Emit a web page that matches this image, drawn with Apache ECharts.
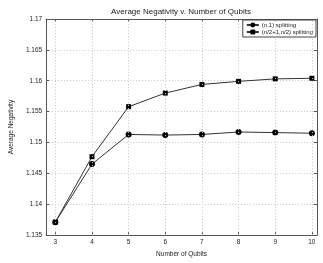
<!DOCTYPE html>
<html><head><meta charset="utf-8">
<script src="https://cdn.jsdelivr.net/npm/echarts@6/dist/echarts.min.js"></script>
<style>html,body{margin:0;padding:0;background:#fff}#c{width:323px;height:263px}</style>
</head><body><div id="c"></div>
<script>
const qubits = [3, 4, 5, 6, 7, 8, 9, 10];
const splitN1 = [1.1371, 1.1465, 1.1513, 1.1512, 1.1513, 1.1517, 1.1516, 1.1515];
const splitHalf = [1.1371, 1.1477, 1.1558, 1.1580, 1.1594, 1.1599, 1.1603, 1.1604];
const xTicks = [3, 4, 5, 6, 7, 8, 9, 10];
const yTicks = [1.135, 1.14, 1.145, 1.15, 1.155, 1.16, 1.165, 1.17];
const names = ['(n,1) splitting', '(n/2+1,n/2) splitting'];

const font = 'Liberation Sans, Arial, sans-serif';
const chart = echarts.init(document.getElementById('c'), null, {renderer: 'canvas'});
const pairs = a => qubits.map((q, i) => [q, a[i]]);
const gridLine = {show: true, lineStyle: {color: '#c8c8c8', type: [1, 2], width: 1}};
const axLine = {show: true, lineStyle: {color: '#555', width: 1}};
chart.setOption({
  animation: false,
  title: {text: 'Average Negativity v. Number of Qubits', left: 176, top: 3, textAlign: 'center',
    textStyle: {fontFamily: font, fontSize: 8, fontWeight: 'normal', color: '#222'}},
  grid: {left: 36, right: 6, top: 19, bottom: 22, show: false},
  legend: {
    orient: 'vertical', right: 7, top: 20, itemGap: 1, itemWidth: 12, itemHeight: 6,
    padding: [2, 3, 2, 3], borderColor: '#444', borderWidth: 1, backgroundColor: '#fff',
    textStyle: {fontFamily: font, fontSize: 6, color: '#222', padding: [0, 0, 0, -2]},
    data: names
  },
  xAxis: [{
    type: 'value', min: 2.75, max: 10.14, position: 'bottom',
    name: 'Number of Qubits', nameLocation: 'middle', nameGap: 13,
    nameTextStyle: {fontFamily: font, fontSize: 6.5, color: '#222'},
    axisLine: axLine,
    axisTick: {show: true, inside: true, length: 3, customValues: xTicks, lineStyle: {color: '#555'}},
    axisLabel: {customValues: xTicks, fontFamily: font, fontSize: 6.5, color: '#222', margin: 4},
    splitLine: {show: false}
  }, {
    type: 'value', min: 2.75, max: 10.14, position: 'top',
    axisLine: axLine,
    axisTick: {show: true, inside: true, length: 3, customValues: xTicks, lineStyle: {color: '#555'}},
    axisLabel: {show: false}, splitLine: {show: false}
  }],
  yAxis: [{
    type: 'value', min: 1.135, max: 1.17, interval: 0.005, position: 'left',
    name: 'Average Negativity', nameLocation: 'middle', nameGap: 27, nameRotate: 90,
    nameTextStyle: {fontFamily: font, fontSize: 6.5, color: '#222'},
    axisLine: axLine,
    axisTick: {show: true, inside: true, length: 3, lineStyle: {color: '#555'}},
    axisLabel: {fontFamily: font, fontSize: 6.5, color: '#222', margin: 4,
      formatter: v => String(+v.toFixed(3))},
    splitLine: gridLine
  }, {
    type: 'value', min: 1.135, max: 1.17, interval: 0.005, position: 'right',
    axisLine: axLine,
    axisTick: {show: true, inside: true, length: 3, lineStyle: {color: '#555'}},
    axisLabel: {show: false}, splitLine: {show: false}
  }],
  series: [{
    name: names[0], type: 'line', data: pairs(splitN1), symbol: 'circle', symbolSize: 6,
    lineStyle: {color: '#333', width: 1}, itemStyle: {color: '#000'}, z: 3
  }, {
    name: names[1], type: 'line', data: pairs(splitHalf), symbol: 'rect', symbolSize: 5,
    lineStyle: {color: '#333', width: 1}, itemStyle: {color: '#000'}, z: 3
  }, {
    type: 'line', data: [], xAxisIndex: 0, yAxisIndex: 0,
    markLine: {silent: true, symbol: 'none', label: {show: false},
      lineStyle: {color: '#c8c8c8', type: [1, 2], width: 1},
      data: xTicks.map(x => ({xAxis: x}))}
  }]
});
</script></body></html>
